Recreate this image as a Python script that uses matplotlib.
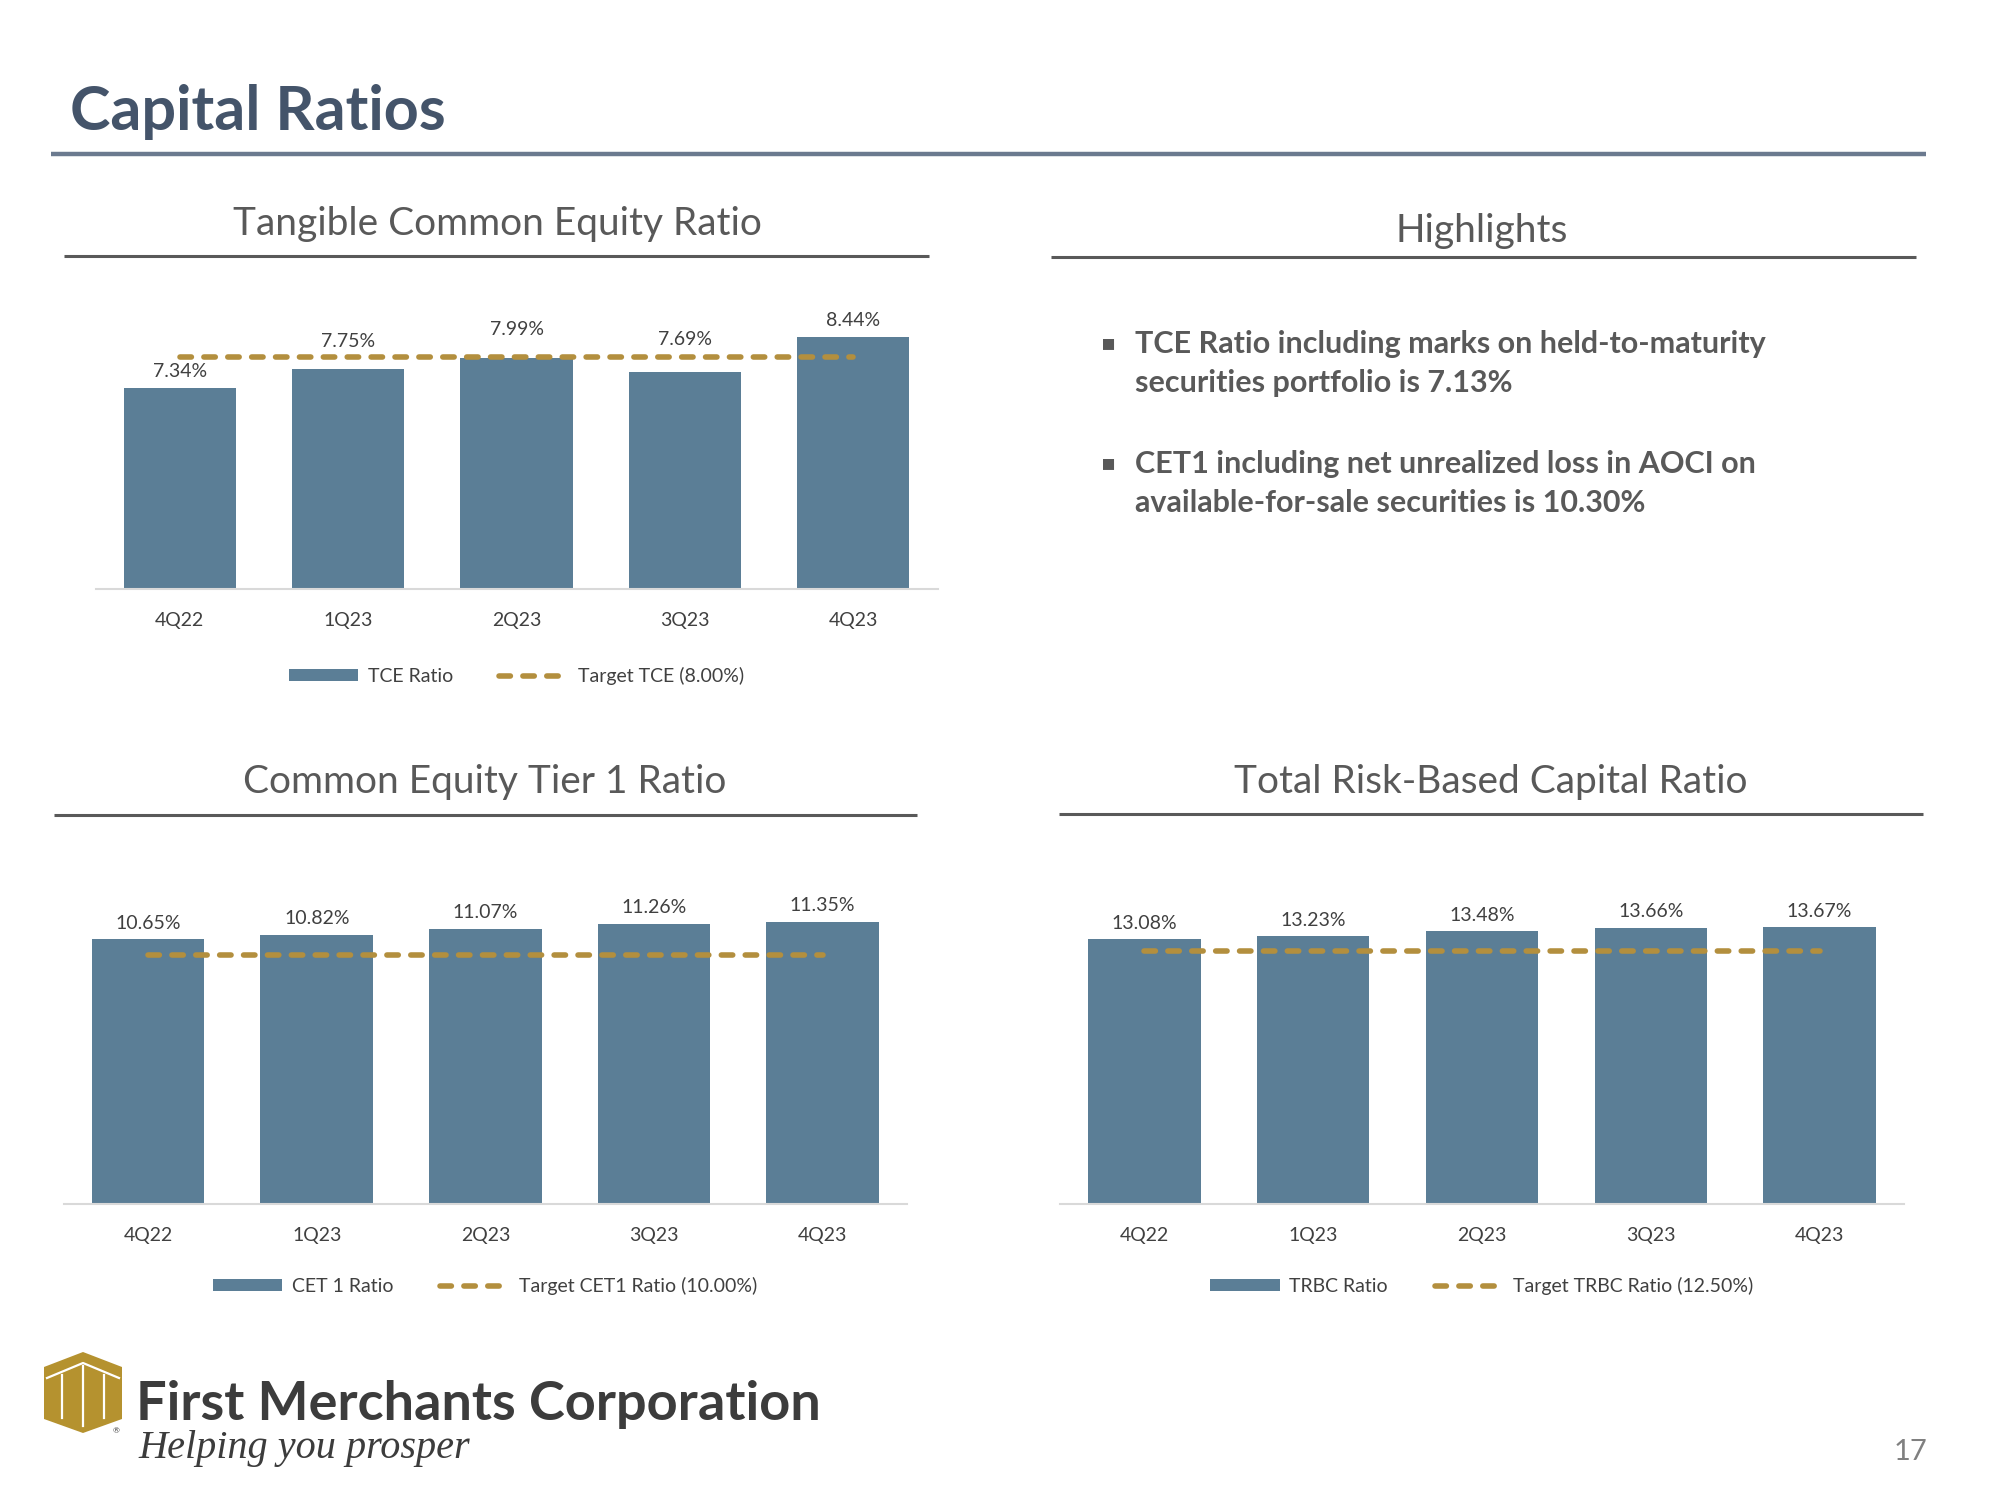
import numpy as np
import matplotlib
matplotlib.use("Agg")
import matplotlib.pyplot as plt
from matplotlib.patches import Polygon

plt.rcParams['font.family'] = ['Lato', 'DejaVu Sans']

# data
quarters = ['4Q22', '1Q23', '2Q23', '3Q23', '4Q23']
tce_ratio = [7.34, 7.75, 7.99, 7.69, 8.44]
tce_target = [8.00, 8.00, 8.00, 8.00, 8.00]
cet1_ratio = [10.65, 10.82, 11.07, 11.26, 11.35]
cet1_target = [10.00, 10.00, 10.00, 10.00, 10.00]
trbc_ratio = [13.08, 13.23, 13.48, 13.66, 13.67]
trbc_target = [12.50, 12.50, 12.50, 12.50, 12.50]

highlights = [
    ['TCE Ratio including marks on held-to-maturity',
     'securities portfolio is 7.13%'],
    ['CET1 including net unrealized loss in AOCI on',
     'available-for-sale securities is 10.30%'],
]

BAR = '#5B7E96'
GOLD = '#B38F3E'
GREY = '#595959'
LABEL = '#404040'

W, H = 2000, 1500
fig = plt.figure(figsize=(20, 15), dpi=100)

# overlay in pixel coordinates for slide decorations
deco = fig.add_axes([0, 0, 1, 1])
deco.set_xlim(0, W)
deco.set_ylim(H, 0)
deco.axis('off')

deco.text(70, 130, 'Capital Ratios', fontsize=44, fontweight='bold',
          color='#44546A', va='baseline', ha='left')
deco.plot([51, 1926], [154, 154], color='#6B7A8F', lw=3.2, solid_capstyle='butt')

# panel headings
for txt, cx, base, x0, x1, ry in [
        ('Tangible Common Equity Ratio', 497, 235, 64, 929, 256),
        ('Highlights', 1482, 242, 1051, 1916, 257),
        ('Common Equity Tier 1 Ratio', 485, 793, 54, 917, 815),
        ('Total Risk-Based Capital Ratio', 1491, 793, 1059, 1923, 814)]:
    deco.text(cx, base, txt, fontsize=28, color=GREY, ha='center', va='baseline')
    deco.plot([x0, x1], [ry, ry], color=GREY, lw=2.2, solid_capstyle='butt')

# highlights bullets
for item, base in zip(highlights, [353, 473]):
    deco.text(1109, base - 10, '\u25aa', fontsize=16, color=GREY,
              ha='center', va='center', family='DejaVu Sans')
    for k, line in enumerate(item):
        deco.text(1135, base + 39 * k, line, fontsize=22, fontweight='bold',
                  color=GREY, ha='left', va='baseline')


def bar_panel(rect, ylim, values, target, bar_name, target_name, offsets, legend_y):
    ax = fig.add_axes(rect)
    x = np.arange(len(quarters))
    bars = ax.bar(x, values, width=0.667, color=BAR, label=bar_name, zorder=2)
    line, = ax.plot(x, target, color=GOLD, lw=4, linestyle=(0, (2.05, 2.25)),
                    dash_capstyle='round', label=target_name, zorder=3)
    for xi, v, off in zip(x, values, offsets):
        ax.annotate(f'{v:.2f}%', (xi, v), xytext=(0, off), textcoords='offset points',
                    ha='center', va='center', fontsize=14, color=LABEL,
                    annotation_clip=False)
    ax.set_xlim(-0.5, len(quarters) - 0.5)
    ax.set_ylim(*ylim)
    ax.set_xticks(x)
    ax.set_xticklabels(quarters, fontsize=14, color=LABEL)
    ax.tick_params(axis='x', length=0, pad=16)
    ax.set_yticks([])
    for s in ['top', 'left', 'right']:
        ax.spines[s].set_visible(False)
    ax.spines['bottom'].set_color('#D9D9D9')
    ax.spines['bottom'].set_linewidth(1.5)
    ax.patch.set_alpha(0)
    cx = rect[0] + rect[2] / 2
    ax.legend([bars, line], [bar_name, target_name],
              loc='center', bbox_to_anchor=(cx, 1 - legend_y / H),
              bbox_transform=fig.transFigure, ncol=2, frameon=False,
              fontsize=14, labelcolor=LABEL, handlelength=3.55,
              handleheight=0.55, handletextpad=0.5, columnspacing=2.4)
    return ax


bar_panel([95.7 / W, 1 - 589.3 / H, (937.5 - 95.7) / W, 278.4 / H], (3, 9),
          tce_ratio, tce_target, 'TCE Ratio', 'Target TCE (8.00%)',
          [12, 20, 20, 23, 12], 676)
bar_panel([63.8 / W, 1 - 1204.3 / H, (906.9 - 63.8) / W, 298.8 / H], (0, 12),
          cet1_ratio, cet1_target, 'CET 1 Ratio', 'Target CET1 Ratio (10.00%)',
          [11.5] * 5, 1286)
bar_panel([1060 / W, 1 - 1204.3 / H, (1904 - 1060) / W, 324.2 / H], (0, 16),
          trbc_ratio, trbc_target, 'TRBC Ratio', 'Target TRBC Ratio (12.50%)',
          [11.5] * 5, 1286)

# logo
logo_gold = '#B5922F'
deco.add_patch(Polygon([[83, 1352], [122, 1367], [122, 1419], [83, 1433],
                        [44, 1419], [44, 1367]], closed=True,
                       facecolor=logo_gold, edgecolor='none'))
deco.plot([47, 83, 119], [1378, 1363, 1378], color='white', lw=1.6)
for lx in [62, 83, 104]:
    top = 1363 + abs(lx - 83) * 15 / 36 + 3
    deco.plot([lx, lx], [top, 1426 - abs(lx - 83) * 14 / 39], color='white', lw=1.6)
deco.text(116, 1431, '\u00ae', fontsize=6, color=LABEL, ha='center', va='center')
deco.text(136, 1420, 'First Merchants Corporation', fontsize=39, fontweight='bold',
          color='#3C3C3C', ha='left', va='baseline')
deco.text(138, 1458, 'Helping you prosper', fontsize=29, style='italic',
          color='#3C3C3C', ha='left', va='baseline', family='Liberation Serif')

deco.text(1911, 1460, '17', fontsize=21, color='#808080', ha='center', va='baseline')

fig.savefig('out.png', dpi=100)
